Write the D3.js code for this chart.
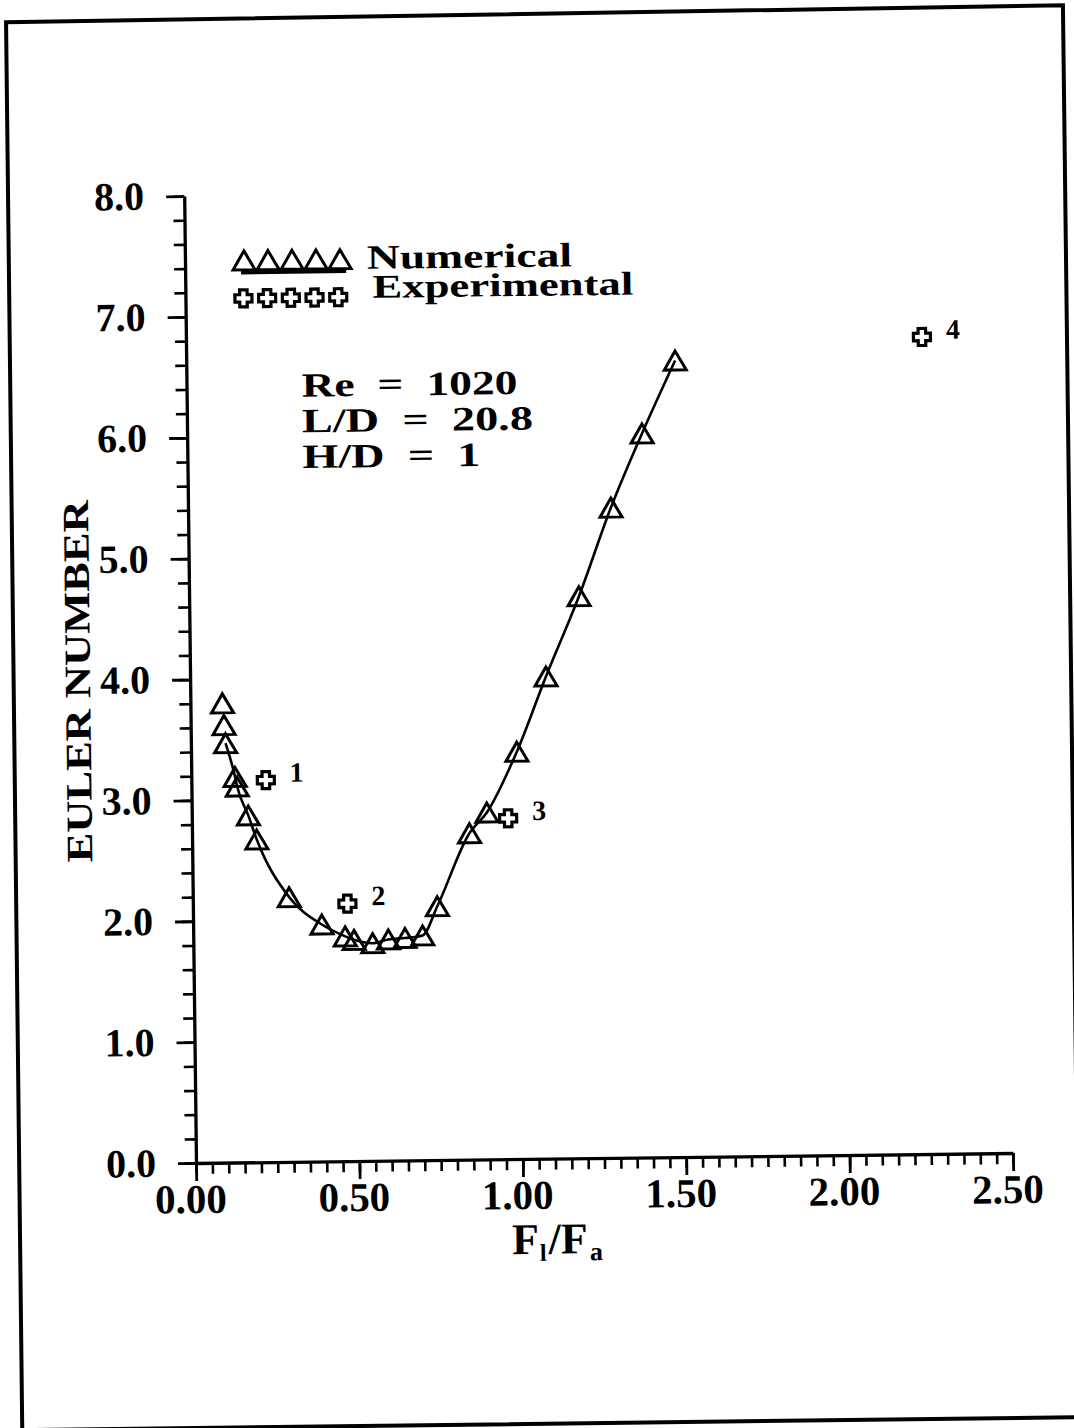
<!DOCTYPE html>
<html>
<head>
<meta charset="utf-8">
<script src="https://cdn.jsdelivr.net/npm/d3@7"></script>
<style>
  body { margin: 0; background: #fff; }
  svg text { font-family: "Liberation Serif", "DejaVu Serif", serif; font-weight: bold; fill: #000; }
  .axis path, .axis line { stroke: #000; }
</style>
</head>
<body>
<div id="chart"></div>
<script>
'use strict';

// numerical results (triangles)
var numX = [0.098, 0.102, 0.106, 0.134, 0.140, 0.173, 0.198, 0.295, 0.394, 0.465, 0.492, 0.549,
  0.597, 0.648, 0.702, 0.748, 0.849, 0.903, 0.997, 1.089, 1.193, 1.294, 1.392, 1.496];
var numY = [3.80, 3.62, 3.47, 3.19, 3.11, 2.87, 2.67, 2.19, 1.96, 1.86, 1.83, 1.80,
  1.83, 1.84, 1.86, 2.10, 2.70, 2.87, 3.37, 3.99, 4.65, 5.38, 5.99, 6.59];
// experimental points (crosses)
var expX = [0.228, 0.473, 0.968, 2.252];
var expY = [3.16, 2.13, 2.82, 6.76];
var expLabels = ["1", "2", "3", "4"];

var xMajor = [0, 0.5, 1.0, 1.5, 2.0, 2.5];
var yMajor = [0, 1, 2, 3, 4, 5, 6, 7, 8];
var paramLines = ["Re  =  1020", "L/D  =  20.8", "H/D  =  1"];

var W = 1074, H = 1428;
var x = d3.scaleLinear().domain([0, 2.5]).range([196, 1013]);
var y = d3.scaleLinear().domain([0, 8]).range([1163, 196]);

var svg = d3.select("#chart").append("svg")
  .attr("width", W)
  .attr("height", H);

// the scan is slightly tilted
var g = svg.append("g")
  .attr("transform", "rotate(-0.7," + x(0) + "," + y(0) + ")");

// page frame
g.append("path")
  .attr("d", "M20,20 L1077,16 L1077,1428 L19,1428 Z")
  .attr("fill", "none")
  .attr("stroke", "#000")
  .attr("stroke-width", 4);

// x axis: minor ticks every 0.05, labelled ticks every 0.5
var xMinor = d3.range(0, 2.5001, 0.05);
g.append("g")
  .attr("class", "axis")
  .attr("transform", "translate(0," + y(0) + ")")
  .call(d3.axisBottom(x).tickValues(xMinor).tickSize(11).tickSizeOuter(0).tickFormat(""))
  .call(function (a) {
    a.select(".domain").attr("stroke-width", 3.3);
    a.selectAll(".tick line").attr("stroke-width", 2.6);
  });

g.append("g")
  .attr("class", "axis")
  .attr("transform", "translate(0," + y(0) + ")")
  .call(d3.axisBottom(x).tickValues(xMajor).tickSize(18).tickSizeOuter(0).tickPadding(3)
    .tickFormat(d3.format(".2f")))
  .call(function (a) {
    a.select(".domain").remove();
    a.selectAll(".tick line").attr("stroke-width", 2.8);
    a.selectAll(".tick text")
      .attr("font-size", 41)
      .attr("dx", -6);
  });

// y axis: minor ticks every 0.2, labelled every 1
var yMinor = d3.range(0, 8.001, 0.2);
g.append("g")
  .attr("class", "axis")
  .attr("transform", "translate(" + x(0) + ",0)")
  .call(d3.axisLeft(y).tickValues(yMinor).tickSize(11).tickSizeOuter(0).tickFormat(""))
  .call(function (a) {
    a.select(".domain").attr("stroke-width", 3.3);
    a.selectAll(".tick line").attr("stroke-width", 2.6);
  });

g.append("g")
  .attr("class", "axis")
  .attr("transform", "translate(" + x(0) + ",0)")
  .call(d3.axisLeft(y).tickValues(yMajor).tickSize(18).tickSizeOuter(0).tickPadding(22)
    .tickFormat(d3.format(".1f")))
  .call(function (a) {
    a.select(".domain").remove();
    a.selectAll(".tick line").attr("stroke-width", 2.8);
    a.selectAll(".tick text").attr("font-size", 40);
  });

// axis titles
var xt = g.append("text")
  .attr("x", 511)
  .attr("y", 1258)
  .attr("font-size", 44);
xt.append("tspan").text("F");
xt.append("tspan").attr("font-size", 24).attr("dy", 7).attr("dx", 1).text("l");
xt.append("tspan").attr("dy", -7).attr("dx", 2).text("/F");
xt.append("tspan").attr("font-size", 26).attr("dy", 7).attr("dx", 2).text("a");

g.append("text")
  .attr("transform", "translate(96,680) rotate(-90)")
  .attr("text-anchor", "middle")
  .attr("font-size", 37)
  .attr("textLength", 362)
  .attr("lengthAdjust", "spacingAndGlyphs")
  .text("EULER NUMBER");

// hollow triangle, centred on its bounding box; size = width
var triangleShape = {
  draw: function (ctx, w) {
    var h = w * 0.86;
    ctx.moveTo(0, -h / 2);
    ctx.lineTo(w / 2, h / 2);
    ctx.lineTo(-w / 2, h / 2);
    ctx.closePath();
  }
};
// outlined plus sign; size = overall width
var plusShape = {
  draw: function (ctx, w) {
    var a = w / 2, b = w * 0.22;
    ctx.moveTo(-b, -a);
    ctx.lineTo(b, -a);
    ctx.lineTo(b, -b);
    ctx.lineTo(a, -b);
    ctx.lineTo(a, b);
    ctx.lineTo(b, b);
    ctx.lineTo(b, a);
    ctx.lineTo(-b, a);
    ctx.lineTo(-b, b);
    ctx.lineTo(-a, b);
    ctx.lineTo(-a, -b);
    ctx.lineTo(-b, -b);
    ctx.closePath();
  }
};
var tri = d3.symbol().type(triangleShape).size(22);
var cross = d3.symbol().type(plusShape).size(17);

var numData = numX.map(function (d, i) { return { x: d, y: numY[i] }; });
var expData = expX.map(function (d, i) { return { x: d, y: expY[i], label: expLabels[i] }; });

// fitted curve starts at the third triangle
var line = d3.line()
  .x(function (d) { return x(d.x); })
  .y(function (d) { return y(d.y); })
  .curve(d3.curveMonotoneX);

g.append("path")
  .datum(numData.slice(2))
  .attr("d", line)
  .attr("fill", "none")
  .attr("stroke", "#000")
  .attr("stroke-width", 2.6);

g.selectAll(".num")
  .data(numData)
  .enter().append("path")
  .attr("class", "num")
  .attr("transform", function (d) { return "translate(" + x(d.x) + "," + y(d.y) + ")"; })
  .attr("d", tri)
  .attr("fill", "none")
  .attr("stroke", "#000")
  .attr("stroke-width", 3);

var ex = g.selectAll(".exp")
  .data(expData)
  .enter().append("g")
  .attr("class", "exp")
  .attr("transform", function (d) { return "translate(" + x(d.x) + "," + y(d.y) + ")"; });

ex.append("path")
  .attr("d", cross)
  .attr("fill", "#fff")
  .attr("stroke", "#000")
  .attr("stroke-width", 3.2);

ex.append("text")
  .attr("x", 31)
  .attr("y", 2)
  .attr("text-anchor", "middle")
  .attr("font-size", 28)
  .text(function (d) { return d.label; });

// legend
var legend = g.append("g");
var legendSlots = d3.range(5);

legend.selectAll(".ltri")
  .data(legendSlots)
  .enter().append("path")
  .attr("class", "ltri")
  .attr("transform", function (d) { return "translate(" + (255 + d * 24) + ",261)"; })
  .attr("d", tri)
  .attr("fill", "none")
  .attr("stroke", "#000")
  .attr("stroke-width", 3);

legend.append("line")
  .attr("x1", 252).attr("x2", 357)
  .attr("y1", 273).attr("y2", 273)
  .attr("stroke", "#000")
  .attr("stroke-width", 4);

legend.selectAll(".lcross")
  .data(legendSlots)
  .enter().append("path")
  .attr("class", "lcross")
  .attr("transform", function (d) { return "translate(" + (254 + d * 23.7) + ",299)"; })
  .attr("d", cross)
  .attr("fill", "#fff")
  .attr("stroke", "#000")
  .attr("stroke-width", 3.2);

legend.append("text")
  .attr("x", 378).attr("y", 271)
  .attr("font-size", 34)
  .attr("textLength", 205)
  .attr("lengthAdjust", "spacingAndGlyphs")
  .text("Numerical");

legend.append("text")
  .attr("x", 383).attr("y", 300)
  .attr("font-size", 33)
  .attr("textLength", 261)
  .attr("lengthAdjust", "spacingAndGlyphs")
  .text("Experimental");

// run parameters
var paramWidths = [216, 231, 178];
g.selectAll(".param")
  .data(paramLines)
  .enter().append("text")
  .attr("class", "param")
  .attr("x", 311)
  .attr("y", function (d, i) { return 398 + i * 35.7; })
  .attr("font-size", 34)
  .attr("textLength", function (d, i) { return paramWidths[i]; })
  .attr("lengthAdjust", "spacingAndGlyphs")
  .style("white-space", "pre")
  .text(function (d) { return d; });
</script>
</body>
</html>
